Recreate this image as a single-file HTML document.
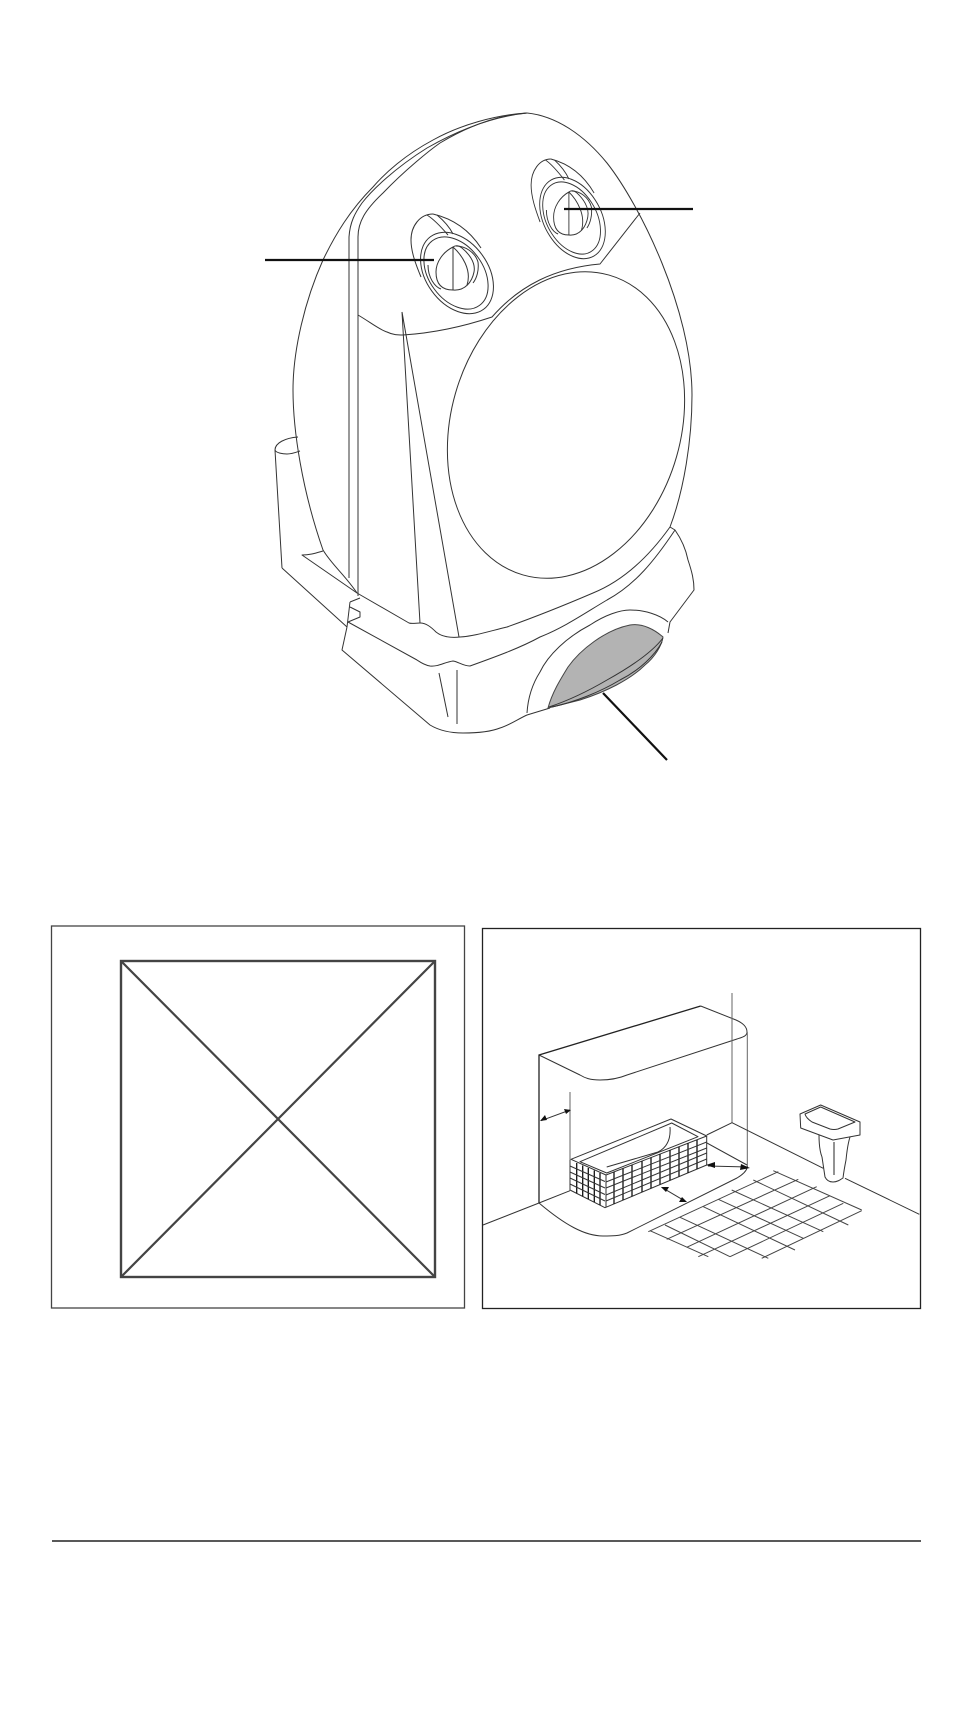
<!DOCTYPE html>
<html>
<head>
<meta charset="utf-8">
<style>
html,body{margin:0;padding:0;background:#fff;width:974px;height:1721px;overflow:hidden}
svg{display:block}
.l{fill:none;stroke:#333;stroke-width:1;stroke-linejoin:round}
.h{fill:none;stroke:#111;stroke-width:2.2}
</style>
</head>
<body>
<svg width="974" height="1721" viewBox="0 0 974 1721" xmlns="http://www.w3.org/2000/svg">
<defs>
<g id="knob">
  <path class="l" d="M433,214 C420,214 411,226 411,240 C411,252 416,265 421,277"/>
  <path class="l" d="M433,214 C450,218 468,228 481,248"/>
  <path class="l" d="M427,215 C435,220 442,228 448,235 M437,215 C443,220 449,226 453,234"/>
  <ellipse class="l" cx="457" cy="273" rx="31" ry="45" transform="rotate(-36 457 273)"/>
  <ellipse class="l" cx="456" cy="273" rx="27" ry="40" transform="rotate(-36 456 273)"/>
  <path class="l" d="M453,247 C443,252 436,262 436,272 C436,282 440,290 453,290 C465,291 472,282 474,272 C476,262 468,253 462,248 Q457,244 453,247"/>
  <path class="l" d="M453,247 C462,255 472,270 467,285 M456,246 C465,246 475,252 478,262 C479,270 477,278 473,283"/>
  <path class="l" d="M428,265 C428,278 435,287 441,289"/>
  <path class="l" d="M453,247 V290"/>
</g>
</defs>

<!-- heater body -->
<path class="l" d="M527,113 C557,116 585,136 607,163 C640,205 692,310 692,395 C692,440 684,490 670,527"/>
<path class="l" d="M527,113 C495,115 460,125 433,140 C405,155 385,173 373,187 C350,210 335,235 323,260 C305,300 293,350 293,390 C293,430 302,490 323,550 C332,565 345,575 357,593"/>
<path class="l" d="M349,578 V237 C350,222 355,213 362,203 C372,190 395,168 427,148 C455,132 490,117 527,113"/>
<path class="l" d="M358,596 V237 C358,222 365,210 383,193 C405,170 430,150 440,143 C470,125 500,115 527,113"/>

<!-- face -->
<path class="l" d="M358,315 C370,322 380,330 387,332 C393,335 398,335 403,335 C435,333 465,326 492,317 C520,285 555,268 600,264 L640,213"/>
<path class="l" d="M402,312 L420,623 M402,312 L459,637"/>
<ellipse class="l" cx="566" cy="425" rx="115" ry="156" transform="rotate(16 566 425)"/>

<use href="#knob"/>
<use href="#knob" transform="translate(572.5 217) scale(.9 1) translate(-457 -272)"/>

<!-- base -->
<path class="l" d="M670,527 C650,555 625,580 593,593 C565,605 535,617 507,627 C490,631 475,636 460,637 C450,638 442,637 436,632 C431,627 426,623 420,623 C416,623 412,624 409,623 L357,593 L302,555 C310,555 316,553 323,551"/>
<path class="l" d="M675,530 C655,560 635,585 607,600 C585,613 565,627 540,637 C520,648 495,657 470,666 C463,666 459,662 453,661 C445,662 438,667 430,666 C424,665 420,662 417,660 L348,622"/>
<path class="l" d="M670,527 L675,530 C682,540 686,550 688,560 C692,572 694,580 694,590 L670,622 L668,633"/>
<path class="l" d="M347,627 L342,650 L430,725 C440,731 452,733 463,733 C478,733 490,732 500,728 C510,725 518,719 527,715 L550,708"/>
<path class="l" d="M282,568 L347,627 M350,602 L360,598 M350,602 L347,627 M350,607 L360,612 L360,617 L348,622"/>
<path class="l" d="M275,450 L282,568 M275,450 C275,443 285,438 298,437 M275,450 C276,453 283,454 287,454 C292,454 297,452 300,451"/>
<path class="l" d="M439,673 L448,717 M457,670 V724"/>

<!-- grille -->
<path class="l" d="M527,713 C528,697 533,683 540,672 C548,655 567,637 590,625 C605,615 620,610 630,610 C645,610 660,615 668,622"/>
<path d="M548,708 C552,693 560,680 568,667 C580,650 605,630 630,625 C643,623 655,630 663,637 C662,645 655,657 645,665 C630,680 605,692 580,700 Z" fill="#b3b3b3" stroke="#444" stroke-width="1"/>
<path class="l" d="M549,707 C570,700 590,690 607,680 C625,670 650,655 663,638 M552,707 C575,702 600,692 620,680 C640,670 655,655 662,642"/>

<!-- callouts -->
<path class="h" d="M265,260 H434 M564,209 H693"/>
<path class="h" d="M603,693 L667,760"/>

<!-- left frame -->
<rect x="51.5" y="926" width="413" height="382" fill="none" stroke="#444" stroke-width="1.3"/>
<rect x="121" y="961" width="314" height="316" fill="none" stroke="#444" stroke-width="2.4"/>
<path fill="none" stroke="#444" stroke-width="2.2" d="M121,961 L435,1277 M435,961 L121,1277"/>

<!-- right frame -->
<rect x="482.5" y="928.5" width="438" height="380" fill="none" stroke="#222" stroke-width="1.3"/>

<!-- wall -->
<path class="l" d="M700.7,1006 L736,1020 C745,1024 747,1028 747,1032 C747,1036 743,1037 737,1039 L627,1075 C615,1080 605,1080 600,1080 C590,1080 585,1078 580,1075 L539,1055"/>
<path fill="none" stroke="#222" stroke-width="1.3" d="M539,1203 V1055 L700.7,1006"/>
<path fill="none" stroke="#666" stroke-width="1" d="M747.3,1032 V1168 M732,993 V1123 M570,1092 V1160"/>
<path class="l" d="M483,1225 L539,1203 L570,1190.7 M706.7,1135 L732,1122.7 L823.3,1168.3 M845,1178.3 L919.3,1214.3"/>
<path class="l" d="M539,1203 C565,1225 585,1236 603,1236 C612,1236 620,1236 627,1233 L737,1178 C742,1175 746,1172 747,1168 M707,1143 L747,1165"/>

<!-- tub -->
<path class="l" d="M571,1159.3 L671,1119 L706.7,1136 L606,1175 Z"/>
<path class="l" d="M580,1161.7 L671.7,1123 L698,1136.7 L606.7,1173 Z"/>
<path class="l" d="M670,1127 C671,1140 666,1148 658,1152 L606.7,1167"/>
<path class="l" d="M570,1160 V1190 L605,1207.7 L706.7,1165 V1136 M606,1175 V1207"/>
<path fill="none" stroke="#111" stroke-width="1.3" d="M614,1172V1204M623,1168.5V1200M632,1165V1196.5M642,1161V1192M651,1157.5V1188.5M660,1154V1184.5M670,1150V1180.5M679,1147V1176.5M688,1143V1173M697,1140V1169M576.7,1163V1193.5M582.7,1165.5V1196.5M588.3,1168V1199M594.3,1170.5V1202M600,1173V1205"/>
<path class="l" d="M606,1182 L706.7,1142 M606,1188 L706.7,1148 M606,1195 L706.7,1153 M606,1201 L706.7,1159 M570,1166 L605,1181.5 M570,1172 L605,1188 M570,1178 L605,1194.5 M570,1184 L605,1201"/>

<!-- dimension arrows -->
<path class="l" d="M541,1120.7 L570,1110 M661.7,1187.3 L686,1201.7 M708,1166 L748,1167"/>
<path fill="#111" d="M540,1121 l5,-6 l2,5z M571,1110 l-7,-1 l2,5z M661,1187 l8,0 l-3,5z M687,1202 l-8,0 l3,-5z M706,1165 l9,-3 l0,6z M750,1168 l-9,-4 l-1,6z"/>

<!-- basin -->
<path class="l" d="M800,1114 L820.7,1105 L860,1122 V1135 L833,1140 L800.7,1128 Z"/>
<path class="l" d="M805,1114 L820.7,1107 L855,1122 L838,1129 Q834,1130 830,1129 L812,1122 Q806,1118 805,1114 Z"/>
<path class="l" d="M819,1135 C819,1145 820,1152 822,1157 L825,1177 C827,1181 830,1182 833,1182 C837,1182 840,1180 843,1178 C844,1170 845,1165 846,1160 C847,1150 848,1143 850,1137"/>
<path fill="none" stroke="#777" stroke-width="1.6" d="M834,1142 V1175"/>

<!-- floor grid -->
<path fill="none" stroke="#444" stroke-width="1" d="M648.3,1231.7L778.3,1171.7M666.7,1239.3L798.3,1179.3M686.7,1247.3L816.7,1186.7M698.3,1256.7L830,1195.7M730,1256.7L843.3,1203.3M761.7,1258.3L861.7,1210.7"/>
<path fill="none" stroke="#444" stroke-width="1" d="M773.3,1170.7L861.7,1210M753.3,1180L848.3,1225M731.7,1190L823.3,1231.7M718.3,1199.3L803.3,1238.3M703.3,1206.7L795,1250M680,1217.3L768.3,1258.3M665,1225L730,1256.7M650,1230.7L708.3,1256.7"/>

<!-- rule -->
<path fill="none" stroke="#222" stroke-width="1.5" d="M52,1541 H921"/>
</svg>
</body>
</html>
